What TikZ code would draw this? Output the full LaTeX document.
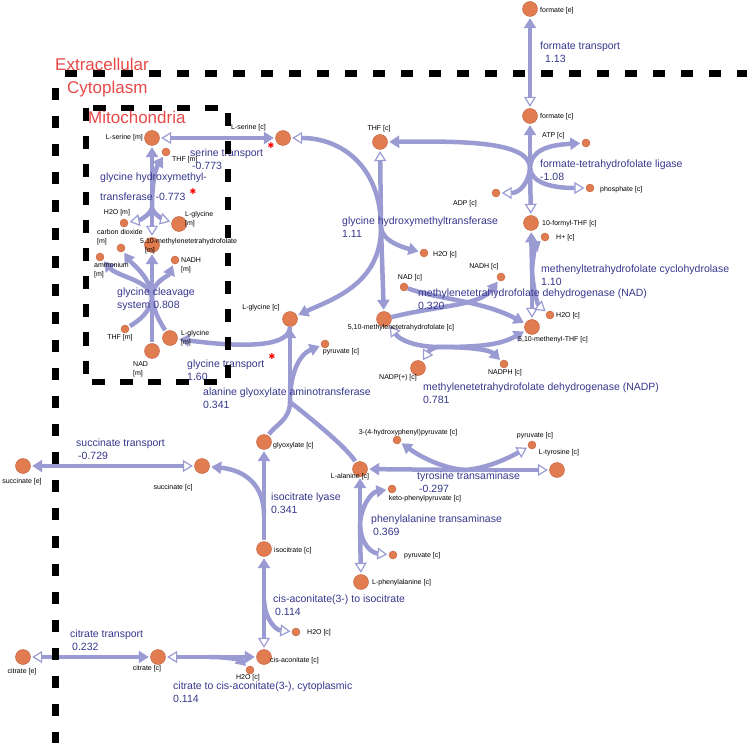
\documentclass[tikz,border=0pt]{standalone}
\usepackage{fontspec}
\setmainfont{Liberation Sans}
\newfontfamily\starfont{DejaVu Sans}
\usetikzlibrary{arrows.meta}

\definecolor{metfill}{RGB}{225,123,80}
\definecolor{metdraw}{RGB}{190,95,60}
\definecolor{fluxc}{RGB}{155,155,212}
\definecolor{rxntext}{RGB}{55,55,140}
\definecolor{regred}{RGB}{232,72,72}

\tikzset{
  ftip/.tip={Triangle[length=10pt,width=12pt]},
  otip/.tip={Triangle[length=10pt,width=12pt,fill=white,line width=1.2pt]},
  met/.style={circle,fill=metfill,draw=metdraw,line width=0.4pt,minimum size=15pt,inner sep=0pt},
  smet/.style={met,minimum size=8pt},
  lab/.style={font=\fontsize{7}{9}\selectfont,inner sep=0pt,align=left},
  rxn/.style={text=rxntext,font=\fontsize{10.5}{13}\selectfont,inner sep=0pt,align=left,anchor=west},
  comp/.style={text=regred,font=\fontsize{17}{17}\selectfont,inner sep=0pt,anchor=west},
  redstar/.style={text=red,font=\starfont\fontsize{8}{8}\selectfont,inner sep=0pt},
  flux/.style={draw=fluxc,line width=4.5pt,shorten >=1.5pt},
  border/.style={draw=black,line width=7pt,dash pattern=on 12pt off 16pt},
  mitobox/.style={draw=black,line width=6pt,dash pattern=on 13pt off 15pt},
}

\begin{document}
\begin{tikzpicture}[x=1pt,y=-1pt]
\useasboundingbox (0,0) rectangle (747,743);

% metabolites (cytoplasm / extracellular)
\node[met] (formE) at (530,9) {};
\node[met] (formC) at (530,116) {};
\node[smet] (atp) at (586,143) {};
\node[smet] (adp) at (496,193) {};
\node[smet] (pi) at (590,188) {};
\node[met] (fthf) at (531,223) {};
\node[smet] (hplus) at (545,237) {};
\node[smet] (h2oA) at (550,315) {};
\node[met] (methenyl) at (532,327) {};
\node[smet] (nadph) at (504,364) {};
\node[met] (nadp) at (418,368) {};
\node[met] (methylene) at (384,319) {};
\node[smet] (nad) at (404,287) {};
\node[smet] (nadh) at (501,277) {};
\node[smet] (h2oB) at (424,253) {};
\node[met] (thf) at (380,142) {};
\node[met] (serC) at (283,138) {};
\node[met] (glyC) at (290,319) {};
\node[smet] (pyrA) at (325,344) {};
\node[met] (glx) at (264,442) {};
\node[met] (succC) at (202,466) {};
\node[met] (succE) at (23,466) {};
\node[met] (icit) at (264,549) {};
\node[met] (ala) at (360,469) {};
\node[smet] (hpp) at (397,440) {};
\node[smet] (pyrB) at (532,445) {};
\node[met] (tyr) at (557,470) {};
\node[smet] (kpp) at (392,489) {};
\node[smet] (pyrC) at (393,555) {};
\node[met] (phe) at (361,582) {};
\node[smet] (h2oC) at (296,632) {};
\node[met] (cisac) at (264,657) {};
\node[smet] (h2oD) at (250,670) {};
\node[met] (citC) at (158,657) {};
\node[met] (citE) at (23,657) {};
% metabolites (mitochondria)
\node[met] (serM) at (152,138) {};
\node[smet] (thfM1) at (166,152) {};
\node[smet] (h2oM) at (124,223) {};
\node[met] (glyM1) at (179,224) {};
\node[met] (methM) at (152,245) {};
\node[smet] (co2M) at (121,248) {};
\node[smet] (nh4M) at (100,257) {};
\node[smet] (nadhM) at (175,260) {};
\node[smet] (thfM2) at (125,329) {};
\node[met] (glyM2) at (170,338) {};
\node[met] (nadM) at (152,351) {};

% reaction hubs
\coordinate (ftl) at (530,168);
\coordinate (mch) at (532,270);
\coordinate (ghc) at (381,228);
\coordinate (mdp) at (440,347);
\coordinate (ghm) at (152,208);
\coordinate (gcs) at (152,298);
\coordinate (agt) at (290,402);
\coordinate (icl) at (264,515);
\coordinate (tyt) at (465,470);
\coordinate (pht) at (360,525);
\coordinate (aci) at (264,600);
\coordinate (cia) at (210,657);

% formate transport
\draw[flux,otip-ftip,shorten <=1.5pt] (formC) -- (formE);
% formate-tetrahydrofolate ligase
\draw[flux,-ftip] (ftl) -- (formC);
\draw[flux,-otip] (ftl) -- (fthf);
\draw[flux,-ftip] (ftl) .. controls (530,141) and (460,141) .. (thf);
\draw[flux,-ftip] (ftl) .. controls (531,150) and (548,145) .. (atp);
\draw[flux,-otip] (ftl) .. controls (529,182) and (520,193) .. (adp);
\draw[flux,-otip] (ftl) .. controls (531,182) and (550,188) .. (pi);
% methenyltetrahydrofolate cyclohydrolase
\draw[flux,-ftip] (mch) -- (fthf);
\draw[flux,-otip] (mch) -- (methenyl);
\draw[flux,-ftip] (mch) .. controls (533,255) and (536,245) .. (hplus);
\draw[flux,-otip] (mch) .. controls (533,290) and (538,305) .. (h2oA);
% glycine hydroxymethyltransferase (c)
\draw[flux,-otip] (ghc) .. controls (381,165) and (340,138) .. (serC);
\draw[flux,-otip] (ghc) -- (thf);
\draw[flux,-ftip] (ghc) -- (methylene);
\draw[flux,-ftip] (ghc) .. controls (383,240) and (398,246) .. (h2oB);
\draw[flux,-ftip] (ghc) .. controls (381,285) and (330,300) .. (glyC);
% dehydrogenase (NAD)
\draw[flux,-ftip] (methylene) .. controls (440,305) and (480,306) .. (nadh);
\draw[flux,-ftip] (nad) .. controls (440,300) and (480,300) .. (methenyl);
% dehydrogenase (NADP)
\draw[flux,-otip] (mdp) .. controls (415,347) and (400,340) .. (methylene);
\draw[flux,-otip] (mdp) .. controls (432,347) and (428,352) .. (nadp);
\draw[flux,-ftip] (mdp) .. controls (480,347) and (500,345) .. (methenyl);
\draw[flux,-ftip] (mdp) .. controls (470,347) and (490,350) .. (nadph);
% serine transport
\draw[flux,otip-ftip,shorten <=1.5pt] (serM) -- (serC);
% glycine hydroxymethyltransferase (m)
\draw[flux,-ftip] (ghm) -- (serM);
\draw[flux,-ftip] (ghm) .. controls (152,180) and (156,168) .. (thfM1);
\draw[flux,-otip] (ghm) -- (methM);
\draw[flux,-otip] (ghm) .. controls (150,215) and (140,220) .. (h2oM);
\draw[flux,-otip] (ghm) .. controls (154,215) and (165,220) .. (glyM1);
% glycine cleavage system
\draw[flux] (gcs) -- (nadM);
\draw[flux] (gcs) .. controls (150,312) and (140,320) .. (thfM2);
\draw[flux] (gcs) .. controls (154,312) and (160,322) .. (glyM2);
\draw[flux,-ftip] (gcs) -- (methM);
\draw[flux,-ftip] (gcs) .. controls (150,280) and (118,277) .. (nh4M);
\draw[flux,-ftip] (gcs) .. controls (151,277) and (132,264) .. (co2M);
\draw[flux,-ftip] (gcs) .. controls (153,280) and (168,277) .. (nadhM);
% glycine transport
\draw[flux,-ftip] (glyC) .. controls (290,350) and (230,346) .. (glyM2);
% alanine glyoxylate aminotransferase
\draw[flux,-ftip] (agt) -- (glyC);
\draw[flux,-ftip] (agt) .. controls (290,372) and (300,354) .. (pyrA);
\draw[flux] (agt) .. controls (290,420) and (275,425) .. (glx);
\draw[flux] (agt) .. controls (300,410) and (345,445) .. (ala);
% isocitrate lyase
\draw[flux] (icl) -- (icit);
\draw[flux,-ftip] (icl) -- (glx);
\draw[flux,-ftip] (icl) .. controls (264,485) and (245,470) .. (succC);
% succinate transport
\draw[flux,otip-ftip,shorten <=1.5pt] (succC) -- (succE);
% tyrosine transaminase
\draw[flux,-ftip] (tyt) -- (ala);
\draw[flux,-otip] (tyt) -- (tyr);
\draw[flux,-ftip] (tyt) .. controls (440,468) and (418,455) .. (hpp);
\draw[flux,-otip] (tyt) .. controls (490,468) and (512,456) .. (pyrB);
% phenylalanine transaminase
\draw[flux,-ftip] (pht) -- (ala);
\draw[flux,-otip] (pht) -- (phe);
\draw[flux,-ftip] (pht) .. controls (361,505) and (372,492) .. (kpp);
\draw[flux,-otip] (pht) .. controls (361,545) and (372,553) .. (pyrC);
% cis-aconitate(3-) to isocitrate
\draw[flux,-ftip] (aci) -- (icit);
\draw[flux,-otip] (aci) -- (cisac);
\draw[flux,-otip] (aci) .. controls (265,620) and (276,630) .. (h2oC);
% citrate to cis-aconitate
\draw[flux,-otip] (cia) -- (citC);
\draw[flux,-ftip] (cia) -- (cisac);
\draw[flux,-ftip] (cia) .. controls (228,657) and (240,660) .. (h2oD);
% citrate transport
\draw[flux,otip-ftip,shorten <=1.5pt] (citE) -- (citC);

% metabolite labels
\node[lab,anchor=west] (formE-l) at (540,11) {formate [e]};
\node[lab,anchor=west] (formC-l) at (540,117) {formate [c]};
\node[lab,anchor=west] (atp-l) at (542,136) {ATP [c]};
\node[lab] (adp-l) at (465,204) {ADP [c]};
\node[lab,anchor=west] (pi-l) at (600,190) {phosphate [c]};
\node[lab,anchor=west] (fthf-l) at (542,224) {10-formyl-THF [c]};
\node[lab,anchor=west] (hplus-l) at (556,238) {H+ [c]};
\node[lab,anchor=west] (h2oA-l) at (556,316) {H2O [c]};
\node[lab] (methenyl-l) at (553,340) {5,10-methenyl-THF [c]};
\node[lab] (nadph-l) at (505,373) {NADPH [c]};
\node[lab] (nadp-l) at (398,378) {NADP(+) [c]};
\node[lab] (methylene-l) at (401,328) {5,10-methylenetetrahydrofolate [c]};
\node[lab] (nad-l) at (410,278) {NAD [c]};
\node[lab] (nadh-l) at (484,267) {NADH [c]};
\node[lab,anchor=west] (h2oB-l) at (433,255) {H2O [c]};
\node[lab] (thf-l) at (379,129) {THF [c]};
\node[lab,anchor=east] (serC-l) at (266,128) {L-serine [c]};
\node[lab] (glyC-l) at (261,308) {L-glycine [c]};
\node[lab] (pyrA-l) at (341,352) {pyruvate [c]};
\node[lab,anchor=west] (glx-l) at (273,446) {glyoxylate [c]};
\node[lab] (succC-l) at (173,488) {succinate [c]};
\node[lab] (succE-l) at (22,482) {succinate [e]};
\node[lab,anchor=west] (icit-l) at (274,551) {isocitrate [c]};
\node[lab] (ala-l) at (350,477) {L-alanine [c]};
\node[lab] (hpp-l) at (408,433) {3-(4-hydroxyphenyl)pyruvate [c]};
\node[lab] (pyrB-l) at (535,436) {pyruvate [c]};
\node[lab] (tyr-l) at (559,453) {L-tyrosine [c]};
\node[lab] (kpp-l) at (425,499) {keto-phenylpyruvate [c]};
\node[lab,anchor=west] (pyrC-l) at (404,556) {pyruvate [c]};
\node[lab,anchor=west] (phe-l) at (372,583) {L-phenylalanine [c]};
\node[lab,anchor=west] (h2oC-l) at (307,633) {H2O [c]};
\node[lab,anchor=west] (cisac-l) at (270,661) {cis-aconitate [c]};
\node[lab] (h2oD-l) at (248,678) {H2O [c]};
\node[lab] (citC-l) at (147,669) {citrate [c]};
\node[lab] (citE-l) at (22,672) {citrate [e]};
\node[lab,anchor=east] (serM-l) at (143,138) {L-serine [m]};
\node[lab,anchor=west] (thfM1-l) at (172,160) {THF [m]};
\node[lab] (h2oM-l) at (117,213) {H2O [m]};
\node[lab,anchor=west] (glyM1-l) at (185,219) {L-glycine\\{}[m]};
\node[lab,anchor=north west] (methM-l) at (140,238) {5,10-methylenetetrahydrofolate\\\hspace*{5pt}[m]};
\node[lab,anchor=west] (co2M-l) at (97,237.5) {carbon dioxide\\{}[m]};
\node[lab,anchor=west] (nh4M-l) at (94,270) {ammonium\\{}[m]};
\node[lab,anchor=west] (nadhM-l) at (181,265) {NADH\\{}[m]};
\node[lab] (thfM2-l) at (120,338) {THF [m]};
\node[lab,anchor=west] (glyM2-l) at (181,338) {L-glycine\\{}[m]};
\node[lab,anchor=west] (nadM-l) at (133,369) {NAD\\{}[m]};

% reaction labels
\node[rxn] (ftr) at (540,52.5) {formate transport\\\hspace*{5pt}1.13};
\node[rxn] (sert) at (190,159) {serine transport\\\hspace*{2pt}-0.773};
\node[rxn] (shmtm) at (100,187) {glycine hydroxymethyl-\\[7pt]transferase -0.773};
\node[rxn] (gcsl) at (117,299) {glycine cleavage\\system 0.808};
\node[rxn] (glyt) at (187,370) {glycine transport\\1.60};
\node[rxn] (shmtc) at (342,227) {glycine hydroxymethyltransferase\\1.11};
\node[rxn] (ftll) at (540,170.5) {formate-tetrahydrofolate ligase\\-1.08};
\node[rxn] (mchl) at (541,275) {methenyltetrahydrofolate cyclohydrolase\\1.10};
\node[rxn] (mdnl) at (418,299) {methylenetetrahydrofolate dehydrogenase (NAD)\\0.320};
\node[rxn] (mdpl) at (423,393.5) {methylenetetrahydrofolate dehydrogenase (NADP)\\0.781};
\node[rxn] (agtl) at (203,398) {alanine glyoxylate aminotransferase\\0.341};
\node[rxn] (succt) at (76,449.5) {succinate transport\\\hspace*{2pt}-0.729};
\node[rxn] (icll) at (271,503) {isocitrate lyase\\0.341};
\node[rxn] (tytl) at (417,482) {tyrosine transaminase\\\hspace*{2pt}-0.297};
\node[rxn] (phtl) at (371,525) {phenylalanine transaminase\\\hspace*{2pt}0.369};
\node[rxn] (acil) at (273,605.5) {cis-aconitate(3-) to isocitrate\\\hspace*{2pt}0.114};
\node[rxn] (citt) at (70,640.5) {citrate transport\\\hspace*{2pt}0.232};
\node[rxn] (cial) at (173,692.5) {citrate to cis-aconitate(3-), cytoplasmic\\0.114};

\node[redstar] (st1) at (193,192) {✱};
\node[redstar] (st2) at (271,146) {✱};
\node[redstar] (st3) at (272,357) {✱};

% compartments
\draw[border] (65,74) -- (747,74);
\draw[border] (55.5,88) -- (55.5,743);
\draw[mitobox] (85.5,108.5) rectangle (228,382);
\node[comp] (extra) at (55,64) {Extracellular};
\node[comp] (cyto) at (67,89) {Cytoplasm};
\node[comp] (mito) at (88,117) {Mitochondria};
\end{tikzpicture}
\end{document}
